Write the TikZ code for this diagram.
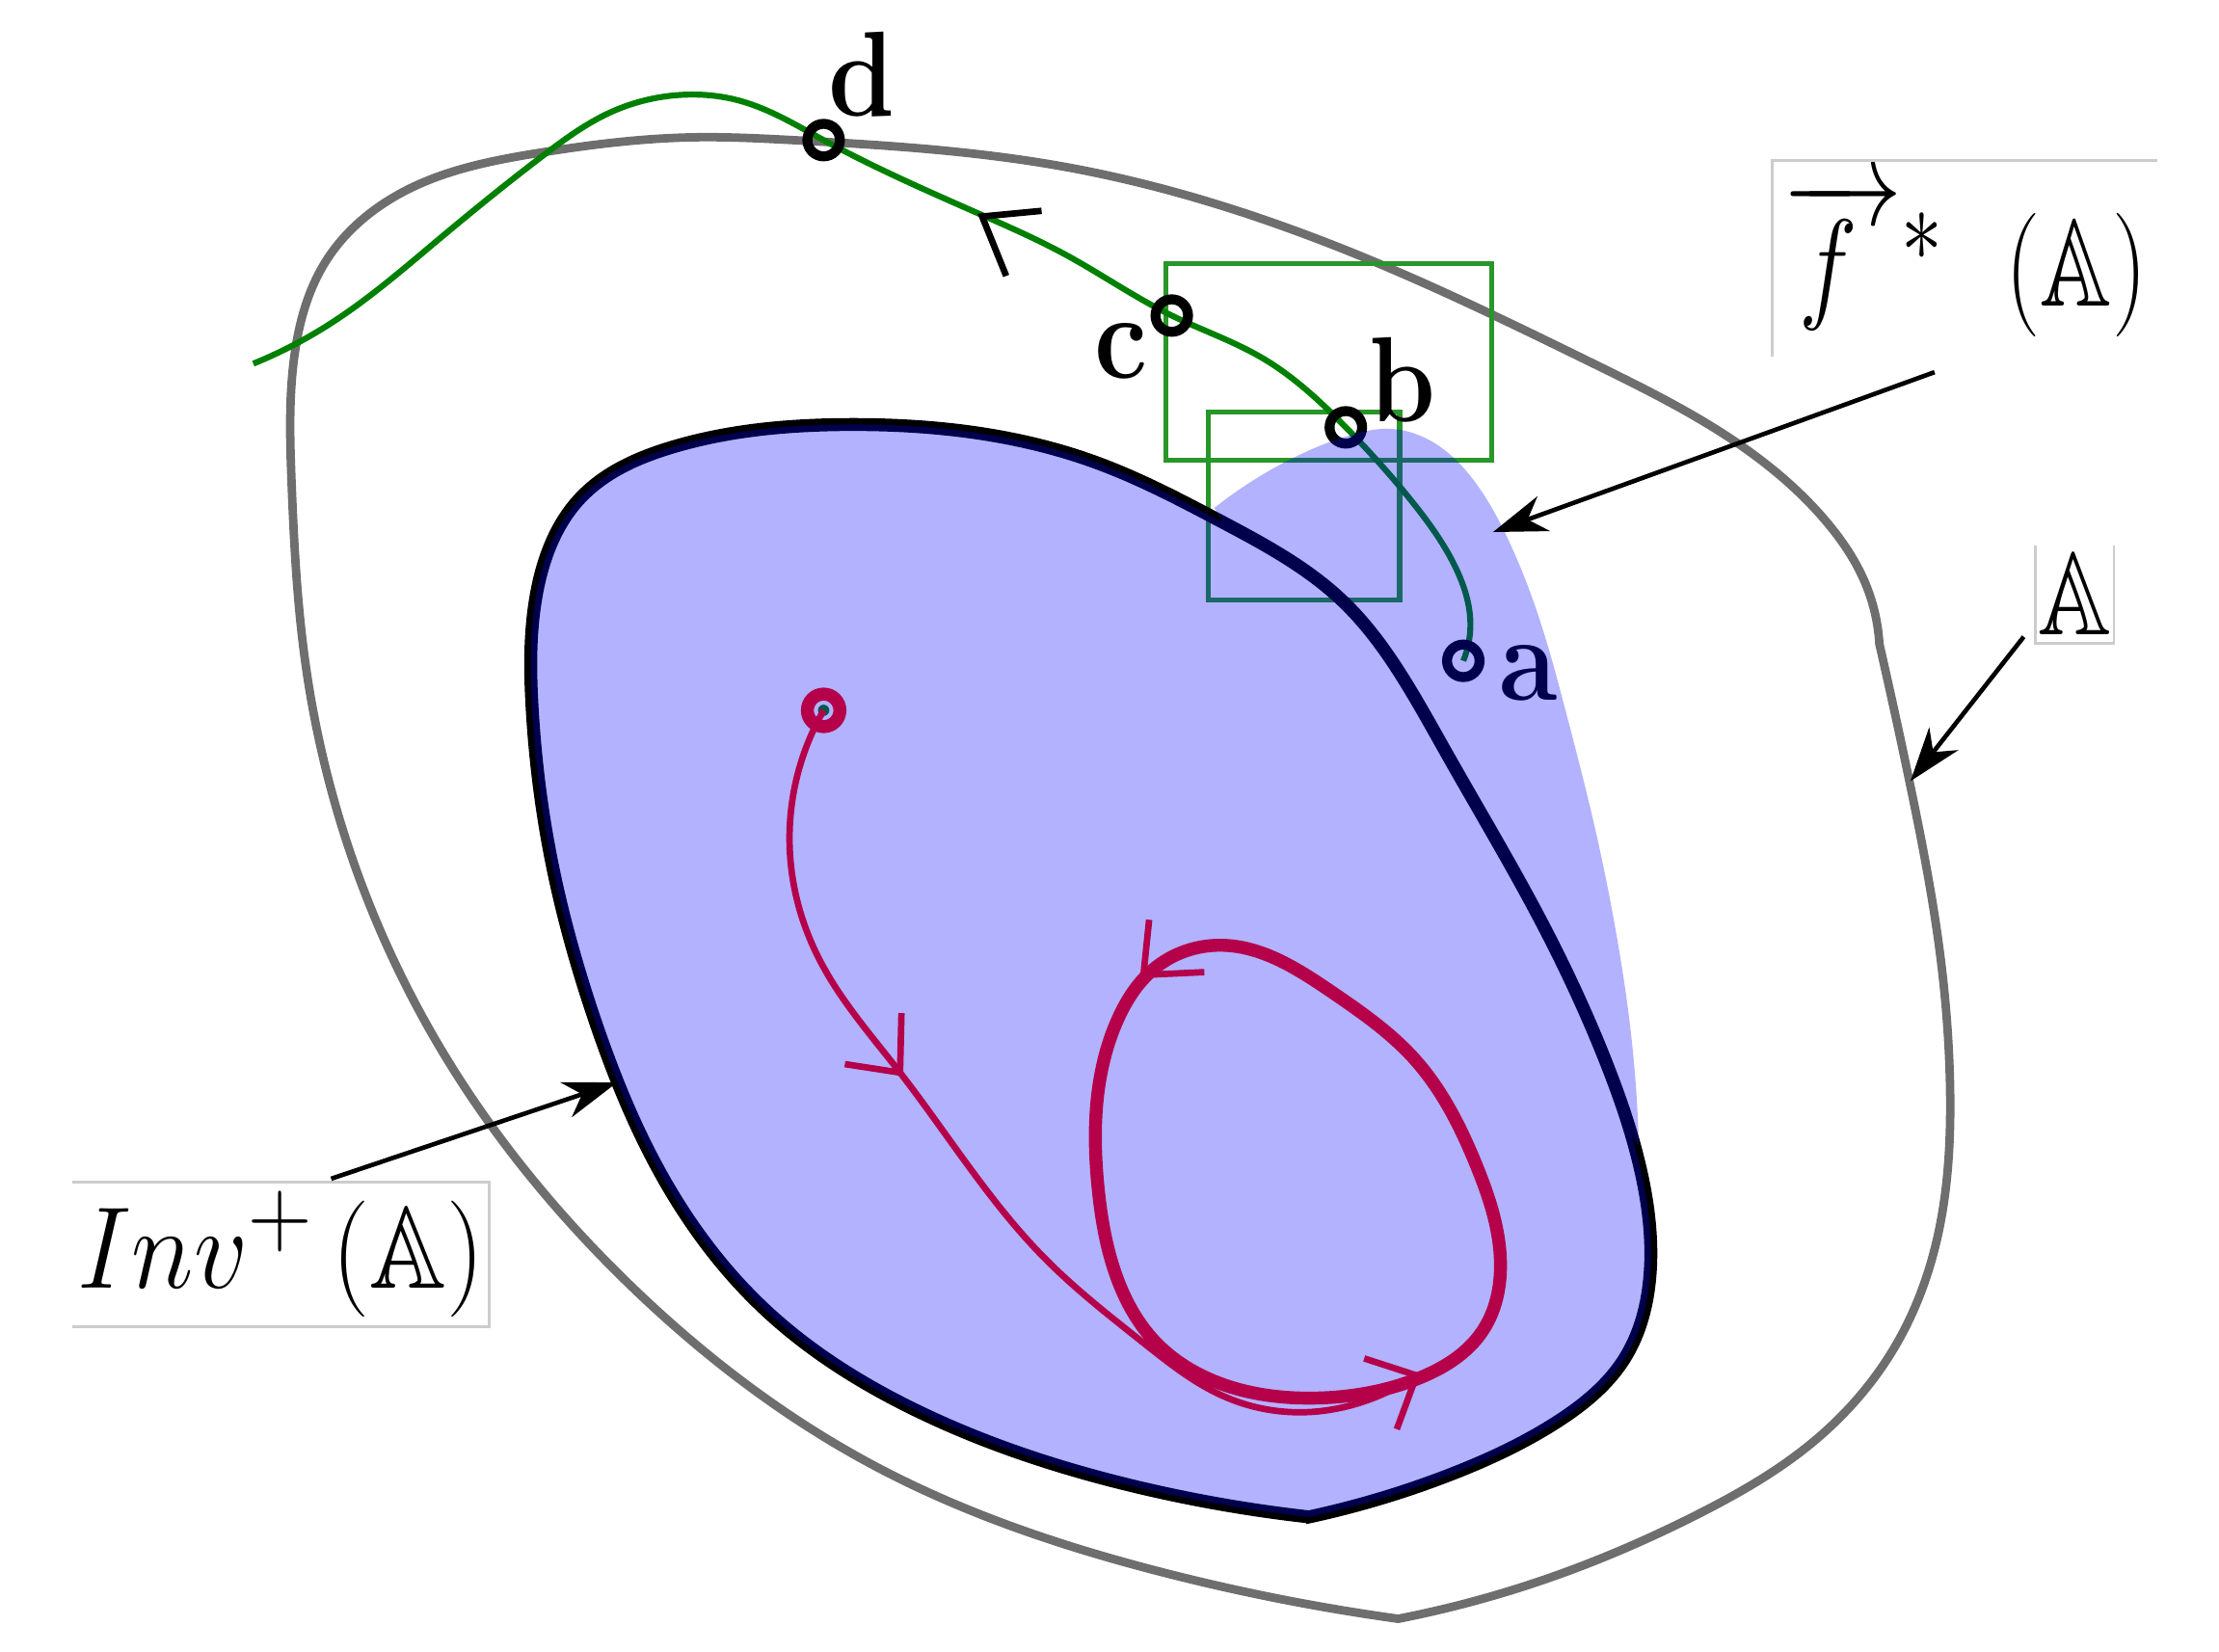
\documentclass[tikz,border=0pt]{standalone}
\usepackage{amssymb}
\usetikzlibrary{arrows.meta,hobby}

\definecolor{setgray}{RGB}{110,110,110}
\definecolor{orbitgreen}{RGB}{0,128,0}
\definecolor{boxgreen}{RGB}{40,150,40}
\definecolor{orbitred}{RGB}{181,0,74}

\newcommand{\invshape}{(925,1072) to[curve through={(800,1050) (650,998) (540,925) (470,835) (420,720) (390,610) (376,500) (380,415) (410,352) (475,316) (601,300) (775,327) (862,368) (949,425) (995,485) (1022,532) (1090,653) (1135,751) (1160,830) (1166,900) (1148,960) (1100,1005) (1025,1042)}] (925,1072) -- cycle}
\newcommand{\fstarshape}{(858,359) to[curve through={(911,325) (956,307) (980,303) (1010,311) (1044,343) (1067,384) (1087,435) (1107,505) (1127,585) (1143,665) (1153,735)}] (1158,810) -- cycle}

\begin{document}
\begin{tikzpicture}[x=0.1mm, y=-0.1mm,
        setA/.style={setgray, line width=1.7pt, line cap=round}, % outline of the set A
        orbit/.style={orbitgreen, line width=1.2pt}, % orbit through d, c, b, a
        traj/.style={orbitred, line width=1.3pt}, % trajectory into Inv+(A)
        barb/.style={line width=1.3pt, line join=miter}, % hand drawn arrow heads
        pt/.style={circle, draw, line width=2pt, minimum size=2.3mm, inner sep=0pt}, % marked points
        ptname/.style={anchor=base, inner sep=0pt, font=\fontsize{24.88}{30}\bfseries},
        lbl/.style={inner sep=0pt, font=\fontsize{24.88}{30}\selectfont}, % boxed labels
        frame/.style={black!20, line width=0.5pt},
        pointer/.style={-{Stealth[length=3.8mm, width=2.6mm, inset=1.2mm]}, line width=0.9pt},
    ]
    \useasboundingbox (0,0) rectangle (1568,1167);

    \coordinate (d) at (582,99);
    \coordinate (c) at (828,223);
    \coordinate (b) at (951,302);
    \coordinate (a) at (1034,467);
    \coordinate (s) at (582,502);
    \coordinate (Akink) at (1328,455);
    \coordinate (Abottom) at (988,1144);

    % the set A
    \draw[setA] (Abottom) to[curve through={(817,1110) (620,1037) (443,906) (318,752) (245,595) (216,470) (206,340) (209,245) (230,185) (290,133) (381,108) (491,97) (560,99) (753,118) (976,187) (1124,256) (1226,312) (1290,368) (1318,412)}] (Akink);
    \draw[setA] (Akink) to[curve through={(1349,551) (1371,675) (1378,771) (1370,870) (1340,950) (1280,1020) (1200,1070) (1095,1115)}] (Abottom);

    \draw[boxgreen, line width=1pt] (824,186) rectangle (1054,325);
    \draw[boxgreen, line width=1pt] (854,291) rectangle (989,424);

    \draw[orbit] (179,257) to[curve through={(233,229) (309,170) (385,109) (430,80) (482,67) (522,71) (d) (694,152) (753,180) (c) (892,253) (b) (999,356) (1029,402) (1039,440)}] (a);
    \draw[barb] (736,149) -- (694,153) -- (711,195);

    \draw[line width=2.6pt] \invshape;

    \node[pt] (dpt) at (d) {};
    \node[pt] (cpt) at (c) {};
    \node[pt] (bpt) at (b) {};
    \node[pt] (apt) at (a) {};
    \node[ptname] (dlbl) at (609,82) {\scalebox{0.86}[0.98]{d}};
    \node[ptname] (clbl) at (792,267) {\scalebox{0.86}[0.98]{c}};
    \node[ptname] (blbl) at (991,298) {\scalebox{0.86}[0.98]{b}};
    \node[ptname] (albl) at (1080,495) {\scalebox{0.86}[0.98]{a}};
    \fill[orbitgreen] (s) circle[radius=0.4mm];

    % Inv+(A) and its forward image
    \fill[blue, opacity=0.3] \invshape \fstarshape;

    \draw[traj] (s) to[curve through={(562,554) (560,620) (580,680) (636,758) (738,889) (808,949) (863,986) (914,998) (965,990)}] (1001,972);
    \draw[traj, line width=2.6pt, use Hobby shortcut, closed=true] (862,668) .. (941,701) .. (1000,749) .. (1043,823) .. (1060,886) .. (1048,940) .. (1000,975) .. (930,988) .. (863,978) .. (816,948) .. (790,905) .. (776,840) .. (775,780) .. (790,720) .. (815,685);
    \draw[traj, barb] (637,716) -- (636,758) -- (597,752);
    \draw[traj, barb] (812,650) -- (808,689) -- (851,687);
    \draw[traj, barb] (964,960) -- (1001,972) -- (987,1010);
    \node[pt, draw=orbitred, line width=2.6pt] (spt) at (s) {};

    % labels
    \node[lbl, minimum width=29.3mm, minimum height=10.1mm] (inv) at (198.5,886.5) {\scalebox{0.86}[0.94]{$Inv^{+}\left(\mathbb{A}\right)$}};
    \node[lbl, minimum width=27.1mm, minimum height=13.7mm] (fstar) at (1388.5,182.5) {\scalebox{0.8}[1]{$\overrightarrow{\,f\;\,}{}^{*}\;\,\left(\mathbb{A}\right)$}};
    \node[lbl, minimum width=5.4mm, minimum height=6.8mm] (Alab) at (1466,420) {\scalebox{0.82}[0.95]{$\mathbb{A}$}};
    \draw[frame] (inv.north west) -- (inv.north east) -- (inv.south east) -- (inv.south west);
    \draw[frame] (fstar.south west) -- (fstar.north west) -- (fstar.north east);
    \draw[frame] (Alab.north west) -- (Alab.south west) -- (Alab.south east) -- (Alab.north east);

    \coordinate (invtail) at (234,833);
    \coordinate (invtip) at (436,765);
    \coordinate (ftail) at (1367,263);
    \coordinate (ftip) at (1055,376);
    \coordinate (Atail) at (1430,450);
    \coordinate (Atip) at (1350,552);
    \draw[pointer] (invtail) -- (invtip);
    \draw[pointer] (ftail) -- (ftip);
    \draw[pointer] (Atail) -- (Atip);
\end{tikzpicture}
\end{document}
